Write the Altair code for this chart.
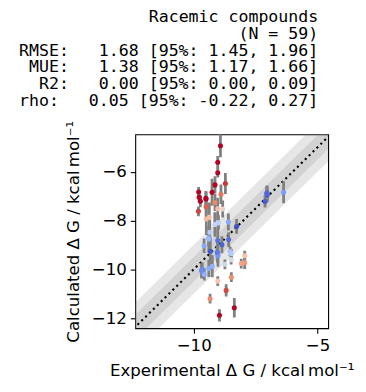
import altair as alt
import pandas as pd

# Experimental and calculated binding free energies (kcal/mol)
exp_dg = [-8.92, -9.03, -9.03, -8.72, -9.14, -9.26, -9.80, -9.78, -9.73, -9.51,
          -8.90, -9.14, -9.81, -9.50, -9.03, -8.83, -9.37, -9.49, -9.03, -9.15,
          -8.60, -8.27, -9.35, -9.39, -9.03, -8.59, -8.86, -9.58, -9.33, -9.04,
          -9.02, -8.53, -8.48, -9.25, -9.39, -9.66, -9.68, -9.57, -8.74, -8.49,
          -7.94, -8.08, -7.94, -8.48, -9.03, -8.69, -9.34, -8.36, -8.96, -7.04,
          -7.03, -7.12, -6.37, -9.40, -9.05, -9.67, -9.50, -7.05, -9.00]
calc_dg = [-4.94, -5.61, -6.04, -6.48, -6.54, -6.84, -6.83, -7.05, -7.21, -7.09,
           -6.92, -7.26, -7.62, -7.43, -7.52, -7.53, -7.86, -7.94, -8.10, -8.16,
           -8.06, -8.24, -8.48, -8.76, -8.82, -8.78, -8.99, -9.03, -9.26, -9.33,
           -9.44, -9.26, -9.35, -9.87, -9.96, -10.01, -10.07, -10.20, -9.79, -9.60,
           -9.44, -9.76, -9.73, -10.32, -10.48, -10.86, -11.20, -11.57, -11.88, -6.86,
           -6.95, -7.22, -6.84, -8.72, -9.30, -10.04, -7.12, -6.90, -8.08]
calc_err = [0.47, 0.25, 0.20, 0.43, 0.35, 0.55, 0.20, 0.20, 0.25, 0.30,
            0.40, 0.35, 0.20, 0.40, 0.45, 0.35, 0.60, 0.65, 0.40, 0.50,
            0.35, 0.30, 0.50, 0.55, 0.40, 0.30, 0.35, 0.30, 0.60, 0.40,
            0.45, 0.20, 0.20, 0.45, 0.35, 0.30, 0.30, 0.25, 0.20, 0.20,
            0.20, 0.20, 0.25, 0.20, 0.20, 0.25, 0.20, 0.40, 0.25, 0.30,
            0.30, 0.25, 0.45, 0.30, 0.30, 0.30, 0.30, 0.30, 0.30]

title_lines = [
    "Racemic compounds",
    "(N = 59)",
    "RMSE:   1.68 [95%: 1.45, 1.96]",
    " MUE:   1.38 [95%: 1.17, 1.66]",
    "  R2:   0.00 [95%: 0.00, 0.09]",
    "rho:   0.05 [95%: -0.22, 0.27]",
]
x_ticks = [-10, -5]
y_ticks = [-12, -10, -8, -6]
x_domain = [-12.36, -4.57]
y_domain = [-12.41, -4.47]
diag_x = [-14.0, -3.0]

# coolwarm colour stops over |error| 0 .. 2.372 kcal/mol (4 RT)
cw_colors = ["#3b4cc0", "#6282ea", "#8db0fe", "#b8d0f9", "#dddddd",
             "#f5c4ad", "#f49a7b", "#dd604d", "#b40426"]
cw_domain = [2.372 * i / 8 for i in range(9)]

df = pd.DataFrame({"exp": exp_dg, "calc": calc_dg, "err": calc_err})
df["abs_err"] = (df["calc"] - df["exp"]).abs()
df["lo"] = df["calc"] - df["err"]
df["hi"] = df["calc"] + df["err"]

diag = pd.DataFrame({"x": diag_x})

FS = 16.67

xs = alt.Scale(domain=x_domain, nice=False, zero=False)
ys = alt.Scale(domain=y_domain, nice=False, zero=False)

x_axis = alt.Axis(values=x_ticks, title="Experimental Δ G / kcal\u2009mol⁻¹",
                  labelExpr="replace(datum.label, '-', '\u2212')")
y_axis = alt.Axis(values=y_ticks, title="Calculated Δ G / kcal\u2009mol⁻¹",
                  labelExpr="replace(datum.label, '-', '\u2212')")

base_d = alt.Chart(diag).transform_calculate(
    lo1="datum.x - 1", hi1="datum.x + 1", lo05="datum.x - 0.5", hi05="datum.x + 0.5")

band1 = base_d.mark_area(color="gray", opacity=0.2, clip=True).encode(
    x=alt.X("x:Q", scale=xs, axis=x_axis), y=alt.Y("lo1:Q", scale=ys, axis=y_axis), y2="hi1:Q")
band05 = base_d.mark_area(color="gray", opacity=0.2, clip=True).encode(
    x=alt.X("x:Q", scale=xs), y=alt.Y("lo05:Q", scale=ys), y2="hi05:Q")
line = base_d.mark_line(color="black", strokeWidth=2.1, strokeDash=[2.1, 3.4], clip=True).encode(
    x=alt.X("x:Q", scale=xs), y=alt.Y("x:Q", scale=ys))

errbars = alt.Chart(df).mark_rule(color="gray", strokeWidth=2.8, clip=True).encode(
    x=alt.X("exp:Q", scale=xs), y=alt.Y("lo:Q", scale=ys), y2="hi:Q")

points = alt.Chart(df).mark_circle(size=26, opacity=1, clip=True).encode(
    x=alt.X("exp:Q", scale=xs),
    y=alt.Y("calc:Q", scale=ys),
    color=alt.Color("abs_err:Q", scale=alt.Scale(domain=cw_domain, range=cw_colors, clamp=True),
                    legend=None),
)

title_text = [s.replace(" ", "\u00a0") for s in title_lines]

chart = alt.layer(band1, band05, line, errbars, points).properties(
    width=194, height=195,
    title=alt.Title(text=title_text, anchor="end", frame="group", font="DejaVu Sans Mono",
                    fontSize=FS, fontWeight="normal", color="black", lineHeight=16.8,
                    offset=11, dx=-10),
    autosize=alt.AutoSizeParams(type="none"),
    padding={"left": 128, "top": 126, "right": 30, "bottom": 55},
).configure_view(stroke="black", strokeWidth=1.1).configure_axis(
    grid=False, domain=False, tickColor="black", tickSize=5, tickWidth=1.1,
    labelFont="DejaVu Sans", labelFontSize=FS, labelColor="black", labelPadding=4,
    titleFont="DejaVu Sans", titleFontSize=FS, titleFontWeight="normal", titleColor="black",
).configure_axisX(titlePadding=9).configure_axisY(titlePadding=9)

chart.save("out.html", embed_options={"renderer": "svg", "actions": False})
